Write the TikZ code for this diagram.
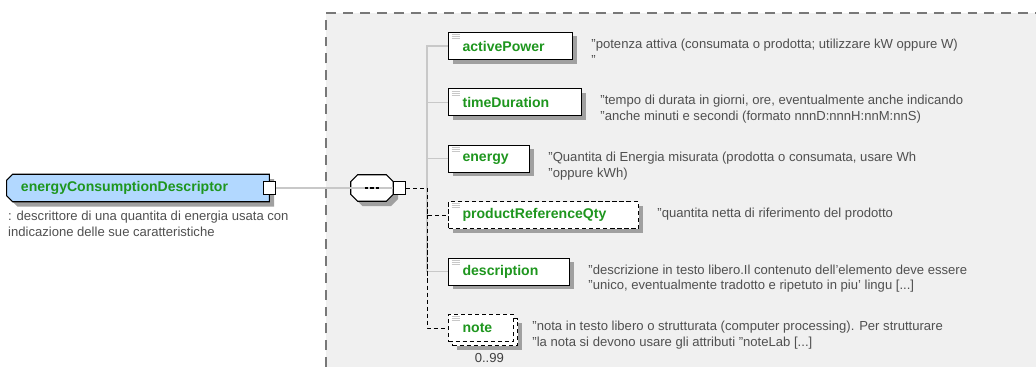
\documentclass[tikz,border=0pt]{standalone}
\usepackage{fontspec}
\setmainfont{Liberation Sans}
\usetikzlibrary{positioning}
\usetikzlibrary{shadows}
\definecolor{elemgreen}{RGB}{30,150,30}
\definecolor{descgray}{RGB}{80,80,80}
\definecolor{linegray}{RGB}{200,200,200}
\definecolor{areagray}{RGB}{240,240,240}
\definecolor{areaborder}{RGB}{120,120,120}
\definecolor{shadegray}{RGB}{160,160,160}
\definecolor{headblue}{RGB}{178,216,255}
\pgfdeclarelayer{background}
\pgfsetlayers{background,main}
\tikzset{
        boxnode/.style={align=left,inner sep=0pt},
        % Root element (outline drawn behind)
        node_root/.style={boxnode, rectangle, text=elemgreen, font=\bfseries\fontsize{10}{12}\selectfont, text width=5.85cm, inner xsep=0.35cm, minimum height=0.675cm},
        % Sequence compositor (outline drawn behind)
        node_seq/.style={rectangle, minimum width=1.05cm, minimum height=0.65cm, inner sep=0pt},
        % Outlines with shadow
        outline/.style={draw=black, line width=0.8pt, fill=#1, drop shadow={shadow xshift=0.12cm, shadow yshift=-0.12cm, fill=shadegray, opacity=1}},
        % Ports
        node_port/.style={rectangle, draw=black, line width=0.6pt, fill=white, minimum width=0.3cm, minimum height=0.33cm, inner sep=0pt},
        % Child elements
        node_box/.style={boxnode, rectangle, draw=black, line width=0.8pt, fill=white, text=elemgreen, font=\bfseries\fontsize{10}{12}\selectfont, text width=#1, inner xsep=0.35cm, minimum height=0.675cm, anchor=west, path picture={\foreach \k in {2,4,6} \draw[solid, linegray, line width=0.5pt] ([shift={(3,\k)}]path picture bounding box.north west) -- ++(8,0);}},
        node_element/.style={node_box=#1, drop shadow={shadow xshift=0.1cm, shadow yshift=-0.1cm, fill=shadegray, opacity=1}},
        % Optional elements
        node_optional/.style={node_element=#1, dash pattern=on 3pt off 2pt},
        % Repeated elements
        node_multi/.style={node_box=#1, dash pattern=on 3pt off 2pt, drop shadow={shadow xshift=0.22cm, shadow yshift=-0.22cm, fill=shadegray, opacity=1}, copy shadow={shadow xshift=0.1cm, shadow yshift=-0.1cm, fill=white, draw=black, line width=0.8pt, dash pattern=on 3pt off 2pt}},
        % Annotations
        node_doc/.style={boxnode, text=descgray, font=\fontsize{9.3}{11.3}\selectfont},
        % Connectors
        conn_line/.style={draw=linegray, line width=0.8pt},
        conn_opt/.style={draw=black, line width=0.7pt, dash pattern=on 3pt off 2pt}
}
\begin{document}
\begin{tikzpicture}[x=0.025cm, y=-0.025cm]
    \useasboundingbox (0,0) rectangle (1036,367);
    % content area
    \begin{pgfonlayer}{background}
        \fill[areagray] (326,13) rectangle (1036,367);
        \draw[areaborder, line width=0.9pt, dash pattern=on 7pt off 5pt] (326,367) -- (326,13) -- (1036,13);
    \end{pgfonlayer}

    \node[node_root] (ecd) at (138,188) {energyConsumptionDescriptor};
    \node[node_port] (ecd_port) at (ecd.east) {};
    \node[node_doc, below right=0.22cm and 0.03cm of ecd.south west] (ecd_doc) {: descrittore di una quantita di energia usata con\\indicazione delle sue caratteristiche};

    \node[node_seq] (seq) at (372,188) {};
    \node[node_port, anchor=west] (seq_port) at (seq.east) {};
    \draw[conn_line] (seq.west) -- (seq.east);
    \foreach \d in {-5.5,0,5.5}
        \draw[line width=0.8pt] ([shift={(\d-1.7,0)}]seq.center) -- ++(3.4,0);

    \begin{pgfonlayer}{background}
        \draw[outline=headblue] ([shift={(6,0)}]ecd.north west) -- (ecd.north east) -- (ecd.south east) -- ([shift={(6,0)}]ecd.south west) -- ([shift={(0,-6)}]ecd.south west) -- ([shift={(0,6)}]ecd.north west) -- cycle;
        \draw[outline=white] ([shift={(7,0)}]seq.north west) -- ([shift={(-7,0)}]seq.north east) -- ([shift={(0,7)}]seq.north east) -- ([shift={(0,-7)}]seq.south east) -- ([shift={(-7,0)}]seq.south east) -- ([shift={(7,0)}]seq.south west) -- ([shift={(0,-7)}]seq.south west) -- ([shift={(0,7)}]seq.north west) -- cycle;
    \end{pgfonlayer}

    \node[node_element=2.4cm] (ap) at (448,46) {activePower};
    \node[node_element=2.625cm] (td) at (448,102.4) {timeDuration};
    \node[node_element=1.325cm] (en) at (448,158.8) {energy};
    \node[node_optional=4.05cm] (prq) at (448,215.2) {productReferenceQty};
    \node[node_element=2.325cm] (desc) at (448,271.6) {description};
    \node[node_multi=0.925cm] (nt) at (448,328) {note};
    \node[node_doc, text=black!75, below left=0.27cm and 0.25cm of nt.south east] (nt_max) {0..99};

    % annotations
    \node[node_doc, below right=0.17cm and 0.45cm of ap.north east] (ap_doc) {"potenza attiva (consumata o prodotta; utilizzare kW oppure W)\\"};
    \node[node_doc, below right=0.17cm and 0.45cm of td.north east] (td_doc) {"tempo di durata in giorni, ore, eventualmente anche indicando\\"anche minuti e secondi (formato nnnD:nnnH:nnM:nnS)};
    \node[node_doc, below right=0.17cm and 0.45cm of en.north east] (en_doc) {"Quantita di Energia misurata (prodotta o consumata, usare Wh\\"oppure kWh)};
    \node[node_doc, below right=0.17cm and 0.45cm of prq.north east] (prq_doc) {"quantita netta di riferimento del prodotto};
    \node[node_doc, below right=0.17cm and 0.45cm of desc.north east] (desc_doc) {"descrizione in testo libero.Il contenuto dell'elemento deve essere\\"unico, eventualmente tradotto e ripetuto in piu' lingu [...]};
    \node[node_doc, below right=0.17cm and 0.45cm of nt.north east] (nt_doc) {"nota in testo libero o strutturata (computer processing). Per strutturare\\"la nota si devono usare gli attributi "noteLab [...]};

    % connectors
    \coordinate (trunk) at (427,188);
    \coordinate (trunk_prq) at (trunk |- prq.west);
    \draw[conn_line] (ecd_port.east) -- (seq.west);
    \foreach \n in {ap,td,en,desc} \draw[conn_line] (trunk) |- (\n.west);
    \draw[conn_opt] (seq_port.east) -- (trunk) -- (trunk_prq) -- (prq.west);
    \draw[conn_opt] (trunk_prq) |- (nt.west);
\end{tikzpicture}
\end{document}
